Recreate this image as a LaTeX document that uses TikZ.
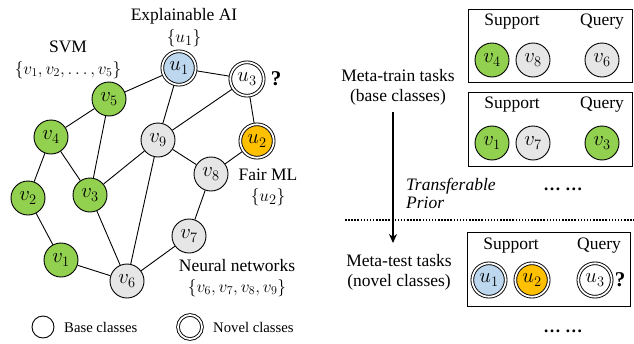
\documentclass[tikz,border=0pt]{standalone}
\usepackage{fontspec}
\setmainfont{Liberation Serif}
\usetikzlibrary{arrows.meta,backgrounds}
\definecolor{grn}{HTML}{92D050}
\definecolor{gry}{HTML}{E6E6E6}
\definecolor{blu}{HTML}{BDD7EE}
\definecolor{org}{HTML}{FFC000}
\tikzset{
  lbl/.style={font=\fontsize{17.5}{20}\selectfont, inner sep=0pt},
  qmark/.style={font=\fontsize{21}{21}\selectfont\bfseries, inner sep=0pt},
  smlbl/.style={font=\fontsize{14.7}{17}\selectfont, inner sep=0pt, anchor=west},
  vnode/.style={circle, draw, line width=0.9pt, minimum size=34pt, inner sep=0pt, font=\fontsize{22}{22}\selectfont},
  gnode/.style={vnode, fill=grn},
  wnode/.style={vnode, fill=gry},
  unode/.style={circle, draw, line width=0.9pt, double=white, double distance=1.8pt, minimum size=33.4pt, inner sep=0pt, font=\fontsize{22}{22}\selectfont},
  edge/.style={line width=0.9pt},
  taskbox/.style={draw, line width=1pt, inner sep=0pt},
}
\begin{document}
\begin{tikzpicture}[x=1pt,y=-1pt]
\useasboundingbox (0,0) rectangle (634,343);
% graph nodes
\node[unode, fill=blu] (u1) at (179,68) {$u_1$};
\node[unode, fill=white] (u3) at (247,79) {$u_3$};
\node[unode, fill=org] (u2) at (257,141) {$u_2$};
\node[gnode] (v5) at (109,99) {$v_5$};
\node[gnode] (v4) at (51,137) {$v_4$};
\node[wnode] (v9) at (158,140) {$v_9$};
\node[wnode] (v8) at (211,174) {$v_8$};
\node[gnode] (v2) at (28,198) {$v_2$};
\node[gnode] (v3) at (90,195) {$v_3$};
\node[wnode] (v7) at (189,236) {$v_7$};
\node[gnode] (v1) at (61,260) {$v_1$};
\node[wnode] (v6) at (127,281) {$v_6$};
\begin{scope}[on background layer]
\draw[edge] (u1) -- (u3);
\draw[edge] (u1) -- (v5);
\draw[edge] (u1) -- (v9);
\draw[edge] (u3) -- (v9);
\draw[edge] (u3) -- (u2);
\draw[edge] (u2) -- (v8);
\draw[edge] (v9) -- (v8);
\draw[edge] (v9) -- (v3);
\draw[edge] (v9) -- (v6);
\draw[edge] (v5) -- (v4);
\draw[edge] (v5) -- (v3);
\draw[edge] (v4) -- (v2);
\draw[edge] (v4) -- (v3);
\draw[edge] (v2) -- (v1);
\draw[edge] (v3) -- (v6);
\draw[edge] (v1) -- (v6);
\draw[edge] (v6) -- (v7);
\draw[edge] (v7) -- (v8);
\end{scope}
% graph labels
\node[lbl] (tEAI) at (184,16) {Explainable AI};
\node[lbl, font=\fontsize{19}{20}\selectfont] (tEAIs) at (184,38) {$\{u_1\}$};
\node[lbl] (tSVM) at (68,47) {SVM};
\node[lbl] (tSVMs) at (68,70) {$\{v_1,v_2,\ldots,v_5\}$};
\node[qmark] (q1) at (276,79) {?};
\node[lbl] (tFair) at (268,175) {Fair ML};
\node[lbl, font=\fontsize{19}{20}\selectfont] (tFairs) at (268,197) {$\{u_2\}$};
\node[lbl] (tNN) at (237,266) {Neural networks};
\node[lbl] (tNNs) at (237,288) {$\{v_6,v_7,v_8,v_9\}$};
% legend
\node[circle, draw, line width=0.9pt, minimum size=22pt, inner sep=0pt] (lb) at (43,327) {};
\node[smlbl] (tlb) at (64,327) {Base classes};
\node[circle, draw, line width=0.9pt, double=white, double distance=1.8pt, minimum size=24pt, inner sep=0pt] (ln) at (190,327) {};
\node[smlbl] (tln) at (213,327) {Novel classes};
% right side boxes
\node[taskbox, minimum width=164pt, minimum height=73pt] (b1) at (550,45.5) {};
\node[taskbox, minimum width=164pt, minimum height=74pt] (b2) at (550,129) {};
\node[taskbox, minimum width=163pt, minimum height=74pt] (b3) at (548.5,269) {};
\node[lbl] (s1) at (512,22) {Support};
\node[lbl] (q1l) at (602,22) {Query};
\node[lbl] (s2) at (512,105) {Support};
\node[lbl] (q2l) at (602,105) {Query};
\node[lbl] (s3) at (511,246) {Support};
\node[lbl] (q3l) at (599,246) {Query};
\node[gnode] (b1v4) at (492,60) {$v_4$};
\node[wnode] (b1v8) at (533,60) {$v_8$};
\node[wnode] (b1v6) at (602,60) {$v_6$};
\node[gnode] (b2v1) at (492,143) {$v_1$};
\node[wnode] (b2v7) at (533,143) {$v_7$};
\node[gnode] (b2v3) at (602,143) {$v_3$};
\node[unode, fill=blu] (b3u1) at (489,280) {$u_1$};
\node[unode, fill=org] (b3u2) at (532,280) {$u_2$};
\node[unode, fill=white] (b3u3) at (595,280) {$u_3$};
\node[qmark] (q3) at (620,280) {?};
% meta texts
\node[lbl] (mtr) at (398,76) {Meta-train tasks};
\node[lbl] (mtr2) at (398,97) {(base classes)};
\node[lbl] (mte) at (399,261) {Meta-test tasks};
\node[lbl] (mte2) at (399,282) {(novel classes)};
\node[lbl, anchor=west, font=\fontsize{17.5}{20}\selectfont\itshape] (tp1) at (406,186) {Transferable};
\node[lbl, anchor=west, font=\fontsize{17.5}{20}\selectfont\itshape] (tp2) at (406,203) {Prior};
\node[lbl, font=\fontsize{17.5}{20}\selectfont\bfseries] (dots1) at (563,189) {\ldots\ \ldots};
\node[lbl, font=\fontsize{17.5}{20}\selectfont\bfseries] (dots2) at (563,331) {\ldots\ \ldots};
\coordinate (a1) at (393,112);
\coordinate (a2) at (393,243);
\draw[line width=1.8pt, -{Stealth[length=9pt,width=8pt]}] (a1) -- (a2);
\coordinate (dl) at (345,220);
\coordinate (dr) at (634,220);
\draw[line width=1.5pt, dash pattern=on 1.5pt off 1.6pt] (dl) -- (dr);
\end{tikzpicture}
\end{document}
